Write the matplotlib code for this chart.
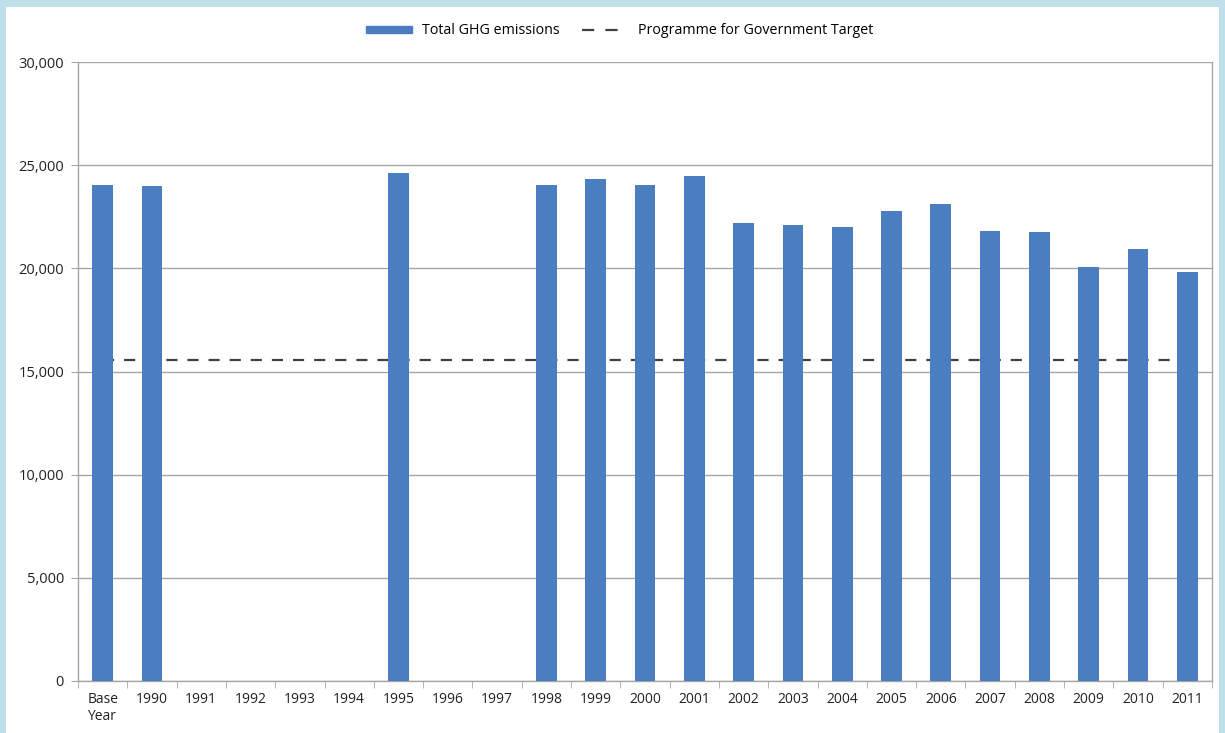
import matplotlib
matplotlib.use("Agg")
import matplotlib.pyplot as plt
import matplotlib.patches as mpatches
from matplotlib.lines import Line2D
from matplotlib.ticker import FuncFormatter, FixedLocator
import numpy as np

plt.rcParams["font.family"] = ["Open Sans", "DejaVu Sans"]

# ── 데이터 ──────────────────────────────────────────────
years = ["Base\nYear", "1990", "1991", "1992", "1993", "1994", "1995", "1996",
         "1997", "1998", "1999", "2000", "2001", "2002", "2003", "2004", "2005",
         "2006", "2007", "2008", "2009", "2010", "2011"]
ghg = [24030, 23980, 0, 0, 0, 0, 24600, 0, 0, 24060, 24350, 24040, 24470,
       22180, 22110, 21980, 22800, 23110, 21800, 21740, 20080, 20930, 19840]
target = 15560

C_BAR = "#4A7EC1"
C_LINE = "#404040"
C_GRID = "#A6A6A6"
C_BG = "#BFE0EA"

fig = plt.figure(figsize=(12.25, 7.33), dpi=100, facecolor=C_BG)
# 흰 패널
fig.patches.append(mpatches.Rectangle((6/1225, 0), 1 - 12/1225, 1 - 7/733,
                                      transform=fig.transFigure, facecolor="white",
                                      edgecolor="none", zorder=-10))

ax = fig.add_axes([78/1225, 1 - 681/733, (1212 - 78)/1225, (681 - 62)/733])
ax.set_facecolor("none")

x = np.arange(len(years))
ax.bar(x, ghg, width=0.42, color=C_BAR, zorder=3)
ax.plot([x[0], x[-1]], [target, target], color=C_LINE, lw=1.6,
        dashes=(5, 4.5), zorder=2)

ax.set_xlim(-0.5, len(years) - 0.5)
ax.set_ylim(0, 30000)
ax.set_yticks(np.arange(0, 30001, 5000))
ax.yaxis.set_major_formatter(FuncFormatter(lambda v, p: f"{int(v):,}"))
ax.grid(axis="y", color=C_GRID, lw=1, zorder=1)

ax.set_xticks(x)
ax.set_xticklabels(years, ha="center", va="top")
for lbl in ax.get_xticklabels():
    if "Base" in lbl.get_text():
        lbl.set_multialignment("left")
ax.xaxis.set_minor_locator(FixedLocator(np.arange(-0.5, len(years), 1)))
ax.tick_params(axis="x", which="major", length=0, pad=8, labelsize=10, colors="#222222")
ax.tick_params(axis="x", which="minor", length=5, color=C_GRID, direction="out")
ax.tick_params(axis="y", length=5, color=C_GRID, direction="out", pad=5,
               labelsize=10.5, labelcolor="#222222")

for side in ["left", "bottom", "right", "top"]:
    ax.spines[side].set_color(C_GRID)
    ax.spines[side].set_linewidth(1)
ax.spines["top"].set_visible(False)

handles = [mpatches.Patch(color=C_BAR, label="Total GHG emissions"),
           Line2D([0], [0], color=C_LINE, lw=1.6, dashes=(5.5, 5),
                  label="Programme for Government Target")]
fig.legend(handles=handles, loc="center", bbox_to_anchor=(0.506, 1 - 31/733),
           ncol=2, frameon=False, fontsize=10.3, handlelength=3.2, handleheight=0.45,
           columnspacing=1.6, handletextpad=0.7)

fig.savefig("out.png", dpi=100, facecolor=C_BG)
